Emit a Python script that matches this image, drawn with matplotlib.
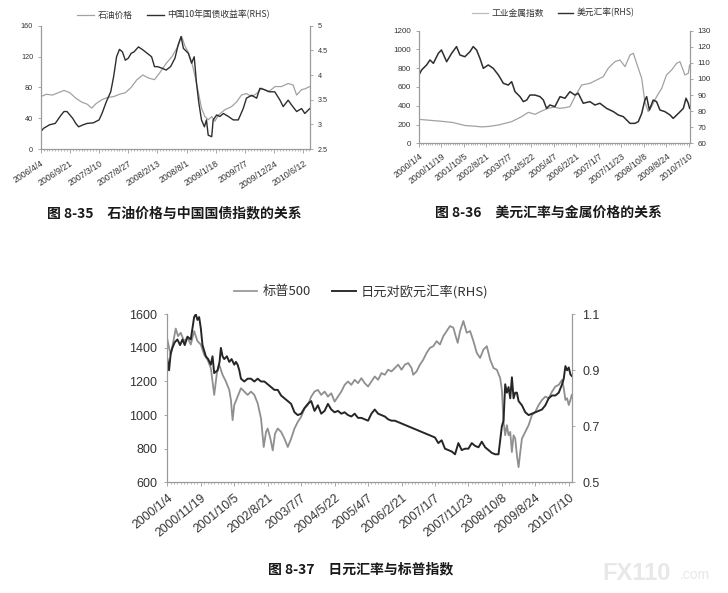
import matplotlib
matplotlib.use("Agg")
import matplotlib.pyplot as plt
from matplotlib.ticker import MultipleLocator
from matplotlib.lines import Line2D

plt.rcParams['font.family'] = ['Liberation Sans', 'Noto Sans CJK SC', 'DejaVu Sans']
CJK = ['Noto Sans CJK SC', 'DejaVu Sans']

# ---------------- Chart 8-35: oil price vs China 10y yield ----------------
C1_TICKS = ["2006/4/4", "2006/9/21", "2007/3/10", "2007/8/27", "2008/2/13",
            "2008/8/1", "2009/1/18", "2009/7/7", "2009/12/24", "2010/6/12"]
OIL_T = [0, 0.2, 0.4, 0.6, 0.8, 1.0, 1.2, 1.4, 1.6, 1.75,
         1.9, 2.1, 2.3, 2.5, 2.7, 2.9, 3.1, 3.3, 3.5, 3.7,
         3.9, 4.1, 4.3, 4.5, 4.7, 4.83, 4.95, 5.05, 5.18, 5.29,
         5.4, 5.51, 5.63, 5.74, 5.86, 5.97, 6.09, 6.31, 6.54, 6.71,
         6.88, 7.05, 7.23, 7.4, 7.57, 7.8, 8.03, 8.25, 8.48, 8.65,
         8.77, 8.94, 9.05, 9.22]
OIL = [68, 71, 70, 73, 76, 73, 66, 61, 58, 53,
       59, 64, 67, 68, 71, 73, 80, 90, 96, 92,
       90, 100, 111, 120, 133, 146, 133, 126, 112, 94,
       74, 53, 42, 38, 42, 36, 44, 51, 55, 61,
       70, 72, 68, 72, 79, 74, 81, 81, 85, 83,
       70, 77, 78, 81]
YLD_T = [0, 0.1, 0.3, 0.5, 0.7, 0.8, 0.9, 1.0, 1.1, 1.2,
         1.3, 1.45, 1.6, 1.8, 2.0, 2.1, 2.25, 2.4, 2.5, 2.6,
         2.7, 2.8, 2.9, 3.0, 3.1, 3.2, 3.35, 3.5, 3.65, 3.8,
         3.9, 4.0, 4.15, 4.3, 4.45, 4.6, 4.71, 4.81, 4.89, 5.06,
         5.17, 5.26, 5.34, 5.42, 5.51, 5.61, 5.68, 5.74, 5.86, 5.91,
         6.03, 6.14, 6.26, 6.43, 6.6, 6.77, 6.94, 7.05, 7.23, 7.4,
         7.51, 7.68, 7.85, 8.02, 8.2, 8.31, 8.48, 8.6, 8.77, 8.94,
         9.05, 9.22]
YLD = [2.85, 2.92, 2.99, 3.02, 3.19, 3.26, 3.26, 3.19, 3.12, 3.02,
       2.95, 2.99, 3.02, 3.03, 3.09, 3.22, 3.46, 3.66, 3.97, 4.37,
       4.52, 4.47, 4.30, 4.34, 4.44, 4.47, 4.57, 4.51, 4.44, 4.37,
       4.17, 4.17, 4.14, 4.10, 4.17, 4.34, 4.61, 4.78, 4.54, 4.44,
       4.24, 4.37, 3.83, 3.43, 3.09, 2.95, 3.09, 2.78, 2.75, 3.09,
       3.19, 3.16, 3.22, 3.16, 3.09, 3.09, 3.32, 3.53, 3.59, 3.53,
       3.73, 3.70, 3.66, 3.66, 3.49, 3.36, 3.49, 3.39, 3.26, 3.32,
       3.22, 3.32]

# ---------------- Chart 8-36: USD index vs metals ----------------
C2_TICKS = ["2000/1/4", "2000/11/19", "2001/10/5", "2002/8/21", "2003/7/7",
            "2004/5/22", "2005/4/7", "2006/2/21", "2007/1/7", "2007/11/23",
            "2008/10/8", "2009/8/24", "2010/7/10"]
MET_T = [0, 0.5, 1.0, 1.5, 2.04, 2.5, 2.79, 3.1, 3.53, 4.12,
         4.56, 4.86, 5.16, 5.45, 5.75, 6.0, 6.27, 6.5, 6.71, 6.93,
         7.23, 7.6, 7.9, 8.19, 8.41, 8.71, 8.93, 9.16, 9.38, 9.53,
         9.7, 9.9, 10.04, 10.19, 10.34, 10.56, 10.79, 11.0, 11.23, 11.45,
         11.6, 11.82, 11.97, 12.03]
MET = [255, 245, 235, 222, 190, 182, 175, 180, 195, 231,
       284, 330, 309, 344, 373, 385, 373, 380, 391, 497,
       621, 639, 675, 710, 799, 870, 888, 817, 941, 959,
       834, 692, 444, 337, 391, 497, 586, 728, 781, 852,
       870, 728, 746, 834]
USD_T = [0, 0.12, 0.34, 0.49, 0.64, 0.86, 1.0, 1.23, 1.45, 1.67,
         1.82, 2.04, 2.27, 2.41, 2.56, 2.71, 2.86, 3.08, 3.3, 3.53,
         3.75, 3.97, 4.12, 4.27, 4.49, 4.64, 4.79, 4.93, 5.16, 5.38,
         5.53, 5.67, 5.82, 6.04, 6.27, 6.49, 6.71, 6.93, 7.08, 7.3,
         7.6, 7.82, 8.04, 8.34, 8.64, 8.86, 9.08, 9.38, 9.6, 9.75,
         9.9, 10.04, 10.12, 10.24, 10.41, 10.56, 10.71, 10.93, 11.16, 11.3,
         11.53, 11.75, 11.87, 11.97, 12.03]
USD = [102.5, 105.6, 108.7, 111.8, 109.7, 115.9, 118.0, 110.7, 115.9, 120.1,
       114.9, 113.8, 117.0, 120.1, 118.0, 112.8, 106.6, 108.7, 106.6, 102.5,
       97.3, 96.2, 98.3, 92.1, 89.0, 85.9, 86.9, 90.0, 90.0, 89.0,
       86.9, 81.7, 83.8, 82.8, 89.0, 88.0, 92.1, 90.0, 91.1, 84.9,
       85.9, 83.8, 84.9, 81.7, 79.7, 77.6, 76.6, 72.4, 72.4, 73.5,
       78.6, 86.9, 89.0, 80.7, 86.9, 85.9, 80.7, 79.7, 77.6, 75.5,
       78.6, 81.7, 88.0, 84.9, 81.7]

# ---------------- Chart 8-37: JPY/EUR vs S&P 500 ----------------
C3_TICKS = C2_TICKS
SP_T = [0, 0.05, 0.1, 0.18, 0.25, 0.32, 0.4, 0.5, 0.6, 0.7,
        0.8, 0.9, 1.0, 1.1, 1.2, 1.3, 1.4, 1.48, 1.55, 1.65,
        1.75, 1.85, 1.9, 1.95, 2.0, 2.1, 2.2, 2.3, 2.4, 2.5,
        2.6, 2.7, 2.8, 2.88, 2.95, 3.0, 3.08, 3.15, 3.22, 3.3,
        3.4, 3.5, 3.6, 3.7, 3.8, 3.9, 4.0, 4.1, 4.2, 4.3,
        4.4, 4.5, 4.6, 4.7, 4.8, 4.9, 5.0, 5.1, 5.2, 5.3,
        5.4, 5.5, 5.6, 5.7, 5.8, 5.9, 6.0, 6.1, 6.2, 6.3,
        6.4, 6.5, 6.6, 6.7, 6.8, 6.9, 7.0, 7.1, 7.2, 7.3,
        7.35, 7.45, 7.55, 7.65, 7.75, 7.85, 7.95, 8.05, 8.15, 8.25,
        8.35, 8.45, 8.55, 8.62, 8.68, 8.75, 8.85, 8.95, 9.05, 9.15,
        9.25, 9.35, 9.45, 9.55, 9.65, 9.75, 9.85, 9.95, 10.0, 10.05,
        10.1, 10.15, 10.2, 10.25, 10.3, 10.35, 10.4, 10.45, 10.5, 10.55,
        10.6, 10.7, 10.8, 10.9, 11.0, 11.1, 11.2, 11.3, 11.4, 11.5,
        11.6, 11.7, 11.8, 11.85, 11.9, 11.95, 12.0, 12.05, 12.09]
SP = [1450, 1400, 1360, 1440, 1515, 1470, 1490, 1440, 1460, 1420,
      1500, 1440, 1420, 1360, 1330, 1280, 1120, 1250, 1300, 1240,
      1200, 1150, 1090, 970, 1060, 1110, 1160, 1140, 1120, 1140,
      1120, 1070, 980, 810, 900, 920, 860, 790, 890, 920,
      900, 860, 810, 860, 920, 960, 990, 1040, 1060, 1110,
      1140, 1150, 1120, 1140, 1110, 1130, 1080, 1110, 1140, 1180,
      1200, 1180, 1210, 1190, 1220, 1190, 1170, 1200, 1230, 1210,
      1250, 1240, 1270, 1260, 1280, 1300, 1270, 1300, 1310, 1280,
      1240, 1260, 1300, 1330, 1370, 1400, 1410, 1440, 1420, 1470,
      1500, 1530, 1520, 1470, 1430, 1500, 1560, 1490, 1500, 1440,
      1370, 1340, 1390, 1410, 1330, 1280, 1270, 1220, 1150, 960,
      880, 940, 880, 900, 780, 880, 860, 760, 690, 780,
      860, 900, 940, 1000, 1020, 1060, 1090, 1110, 1100, 1140,
      1170, 1180, 1210, 1160, 1090, 1100, 1060, 1090, 1120]
JPY_T = [0, 0.05, 0.1, 0.15, 0.22, 0.3, 0.38, 0.45, 0.52, 0.6,
         0.7, 0.75, 0.8, 0.85, 0.9, 0.95, 1.0, 1.05, 1.1, 1.15,
         1.22, 1.3, 1.35, 1.4, 1.5, 1.56, 1.6, 1.65, 1.7, 1.78,
         1.85, 1.92, 2.0, 2.05, 2.1, 2.15, 2.2, 2.3, 2.4, 2.5,
         2.6, 2.7, 2.8, 2.9, 3.0, 3.1, 3.2, 3.3, 3.4, 3.5,
         3.6, 3.7, 3.8, 3.9, 4.0, 4.1, 4.2, 4.3, 4.4, 4.5,
         4.6, 4.7, 4.8, 4.9, 5.0, 5.1, 5.2, 5.3, 5.4, 5.5,
         5.6, 5.7, 5.8, 5.9, 6.0, 6.1, 6.2, 6.3, 6.4, 6.5,
         6.6, 6.7, 6.8, 6.9, 7.0, 7.1, 7.2, 7.3, 7.4, 7.5,
         7.6, 7.7, 7.8, 7.9, 8.0, 8.1, 8.2, 8.3, 8.4, 8.5,
         8.6, 8.7, 8.8, 8.9, 9.0, 9.1, 9.2, 9.3, 9.4, 9.5,
         9.6, 9.7, 9.8, 9.9, 9.95, 10.0, 10.05, 10.1, 10.15, 10.2,
         10.25, 10.3, 10.35, 10.4, 10.45, 10.5, 10.6, 10.7, 10.8, 10.9,
         11.0, 11.1, 11.2, 11.3, 11.4, 11.5, 11.6, 11.7, 11.8, 11.85,
         11.9, 11.95, 12.0, 12.05, 12.09]
JPY = [0.94, 0.90, 0.96, 0.98, 1.00, 1.01, 0.99, 1.01, 0.99, 1.02,
       1.01, 1.05, 1.09, 1.10, 1.08, 1.09, 1.05, 0.99, 0.97, 0.95,
       0.94, 0.92, 0.95, 0.89, 0.90, 0.93, 0.98, 0.95, 0.94, 0.95,
       0.93, 0.94, 0.92, 0.93, 0.92, 0.90, 0.87, 0.86, 0.87, 0.87,
       0.86, 0.87, 0.86, 0.86, 0.85, 0.84, 0.83, 0.83, 0.81, 0.80,
       0.79, 0.78, 0.75, 0.74, 0.745, 0.765, 0.78, 0.79, 0.755, 0.775,
       0.745, 0.755, 0.78, 0.76, 0.75, 0.755, 0.745, 0.75, 0.74, 0.735,
       0.745, 0.73, 0.73, 0.725, 0.72, 0.745, 0.76, 0.745, 0.74, 0.735,
       0.725, 0.72, 0.72, 0.715, 0.71, 0.705, 0.70, 0.695, 0.69, 0.685,
       0.68, 0.675, 0.67, 0.665, 0.66, 0.64, 0.65, 0.62, 0.615, 0.61,
       0.60, 0.64, 0.615, 0.62, 0.62, 0.64, 0.63, 0.625, 0.645, 0.625,
       0.615, 0.605, 0.60, 0.60, 0.65, 0.70, 0.72, 0.85, 0.82, 0.84,
       0.80, 0.875, 0.80, 0.82, 0.82, 0.79, 0.775, 0.75, 0.74, 0.745,
       0.75, 0.755, 0.76, 0.775, 0.80, 0.81, 0.81, 0.82, 0.85, 0.87,
       0.915, 0.90, 0.91, 0.885, 0.88]

GRAY = '#a2a2a2'
DARK = '#2e2e2e'
SPINE = '#9a9a9a'
TXT = '#333333'

fig = plt.figure(figsize=(7.28, 5.93), dpi=100)
fig.patch.set_facecolor('white')


def build(rect, xmax, ticks, ylim_l, yt_l, ylim_r, yt_r, fs_y, fs_x, rot,
          ytl_r=None, ypad=2, xpad=2):
    ax = fig.add_axes(rect)
    axr = ax.twinx()
    for a in (ax, axr):
        a.spines['top'].set_visible(False)
        for s in ('left', 'right', 'bottom'):
            a.spines[s].set_color(SPINE)
            a.spines[s].set_linewidth(0.8)
        a.patch.set_visible(False)
    ax.set_xlim(0, xmax)
    ax.set_ylim(*ylim_l)
    ax.set_yticks(yt_l)
    axr.set_ylim(*ylim_r)
    axr.set_yticks(yt_r)
    if ytl_r is not None:
        axr.set_yticklabels(ytl_r)
    ax.set_xticks(range(len(ticks)))
    ax.set_xticklabels(ticks, rotation=rot, ha='right', va='top',
                       rotation_mode='anchor', fontsize=fs_x, color=TXT)
    ax.xaxis.set_minor_locator(MultipleLocator(0.1))
    ax.tick_params(axis='x', which='major', length=3, width=0.6, color=SPINE, pad=xpad)
    ax.tick_params(axis='x', which='minor', length=1.5, width=0.5, color=SPINE)
    ax.tick_params(axis='y', length=2.5, width=0.6, color=SPINE, labelsize=fs_y,
                   labelcolor=TXT, pad=ypad)
    axr.tick_params(axis='y', length=2.5, width=0.6, color=SPINE, labelsize=fs_y,
                    labelcolor=TXT, pad=ypad)
    return ax, axr


# Chart 1
ax1, ax1r = build([0.0559, 0.7487, 0.370, 0.208], 9.23, C1_TICKS,
                  (0, 160), [0, 40, 80, 120, 160], (2.5, 5.0), [2.5, 3, 3.5, 4, 4.5, 5],
                  5.2, 6.3, 33, ['2.5', '3', '3.5', '4', '4.5', '5'], ypad=3, xpad=4)
ax1.plot(OIL_T, OIL, color=GRAY, lw=0.9)
ax1r.plot(YLD_T, YLD, color=DARK, lw=1.0)

# Chart 2
ax2, ax2r = build([0.5755, 0.7583, 0.3718, 0.190], 12.03, C2_TICKS,
                  (0, 1200), [0, 200, 400, 600, 800, 1000, 1200],
                  (60, 130), [60, 70, 80, 90, 100, 110, 120, 130],
                  5.8, 6.3, 38, ypad=3, xpad=3)
ax2.plot(MET_T, MET, color=GRAY, lw=0.9)
ax2r.plot(USD_T, USD, color=DARK, lw=1.1)

# Chart 3
ax3, ax3r = build([0.2299, 0.1867, 0.5555, 0.2833], 12.09, C3_TICKS,
                  (600, 1600), [600, 800, 1000, 1200, 1400, 1600],
                  (0.5, 1.1), [0.5, 0.7, 0.9, 1.1],
                  9, 8.8, 39, ['0.5', '0.7', '0.9', '1.1'], ypad=5, xpad=4)
ax3.plot(SP_T, SP, color='#8f8f8f', lw=1.3)
ax3r.plot(JPY_T, JPY, color='#262626', lw=1.4)

# Legends
def legend(labels, colors, lws, anchor, fs, hl):
    handles = [Line2D([], [], color=c, lw=w) for c, w in zip(colors, lws)]
    fig.legend(handles, labels, loc='center', bbox_to_anchor=anchor, ncol=2,
               frameon=False, prop={'family': CJK, 'size': fs},
               handlelength=hl, handletextpad=0.4, columnspacing=1.6,
               labelcolor=TXT, borderpad=0)

legend(['石油价格', '中国10年国债收益率(RHS)'], [GRAY, DARK], [0.9, 1.0],
       (0.238, 0.975), 6.3, 2.0)
legend(['工业金属指数', '美元汇率(RHS)'], ['#bbbbbb', DARK], [0.9, 1.0],
       (0.760, 0.978), 6.3, 1.8)
legend(['标普500', '日元对欧元汇率(RHS)'], ['#9a9a9a', DARK], [1.3, 1.4],
       (0.496, 0.509), 9.5, 1.8)

# Captions
fig.text(0.240, 0.641, '图 8-35　石油价格与中国国债指数的关系', ha='center', va='center',
         family=CJK, fontsize=10, fontweight='bold', color='#1a1a1a')
fig.text(0.754, 0.641, '图 8-36　美元汇率与金属价格的关系', ha='center', va='center',
         family=CJK, fontsize=10, fontweight='bold', color='#1a1a1a')
fig.text(0.496, 0.039, '图 8-37　日元汇率与标普指数', ha='center', va='center',
         family=CJK, fontsize=10, fontweight='bold', color='#1a1a1a')

# watermark
fig.text(0.828, 0.033, 'FX110', ha='left', va='center', fontsize=17,
         fontweight='bold', color='#e8e8e8', family=['Liberation Sans'])
fig.text(0.934, 0.030, '.com', ha='left', va='center', fontsize=10,
         color='#e8e8e8', family=['Liberation Sans'])

fig.savefig('out.png', dpi=100, facecolor='white')
